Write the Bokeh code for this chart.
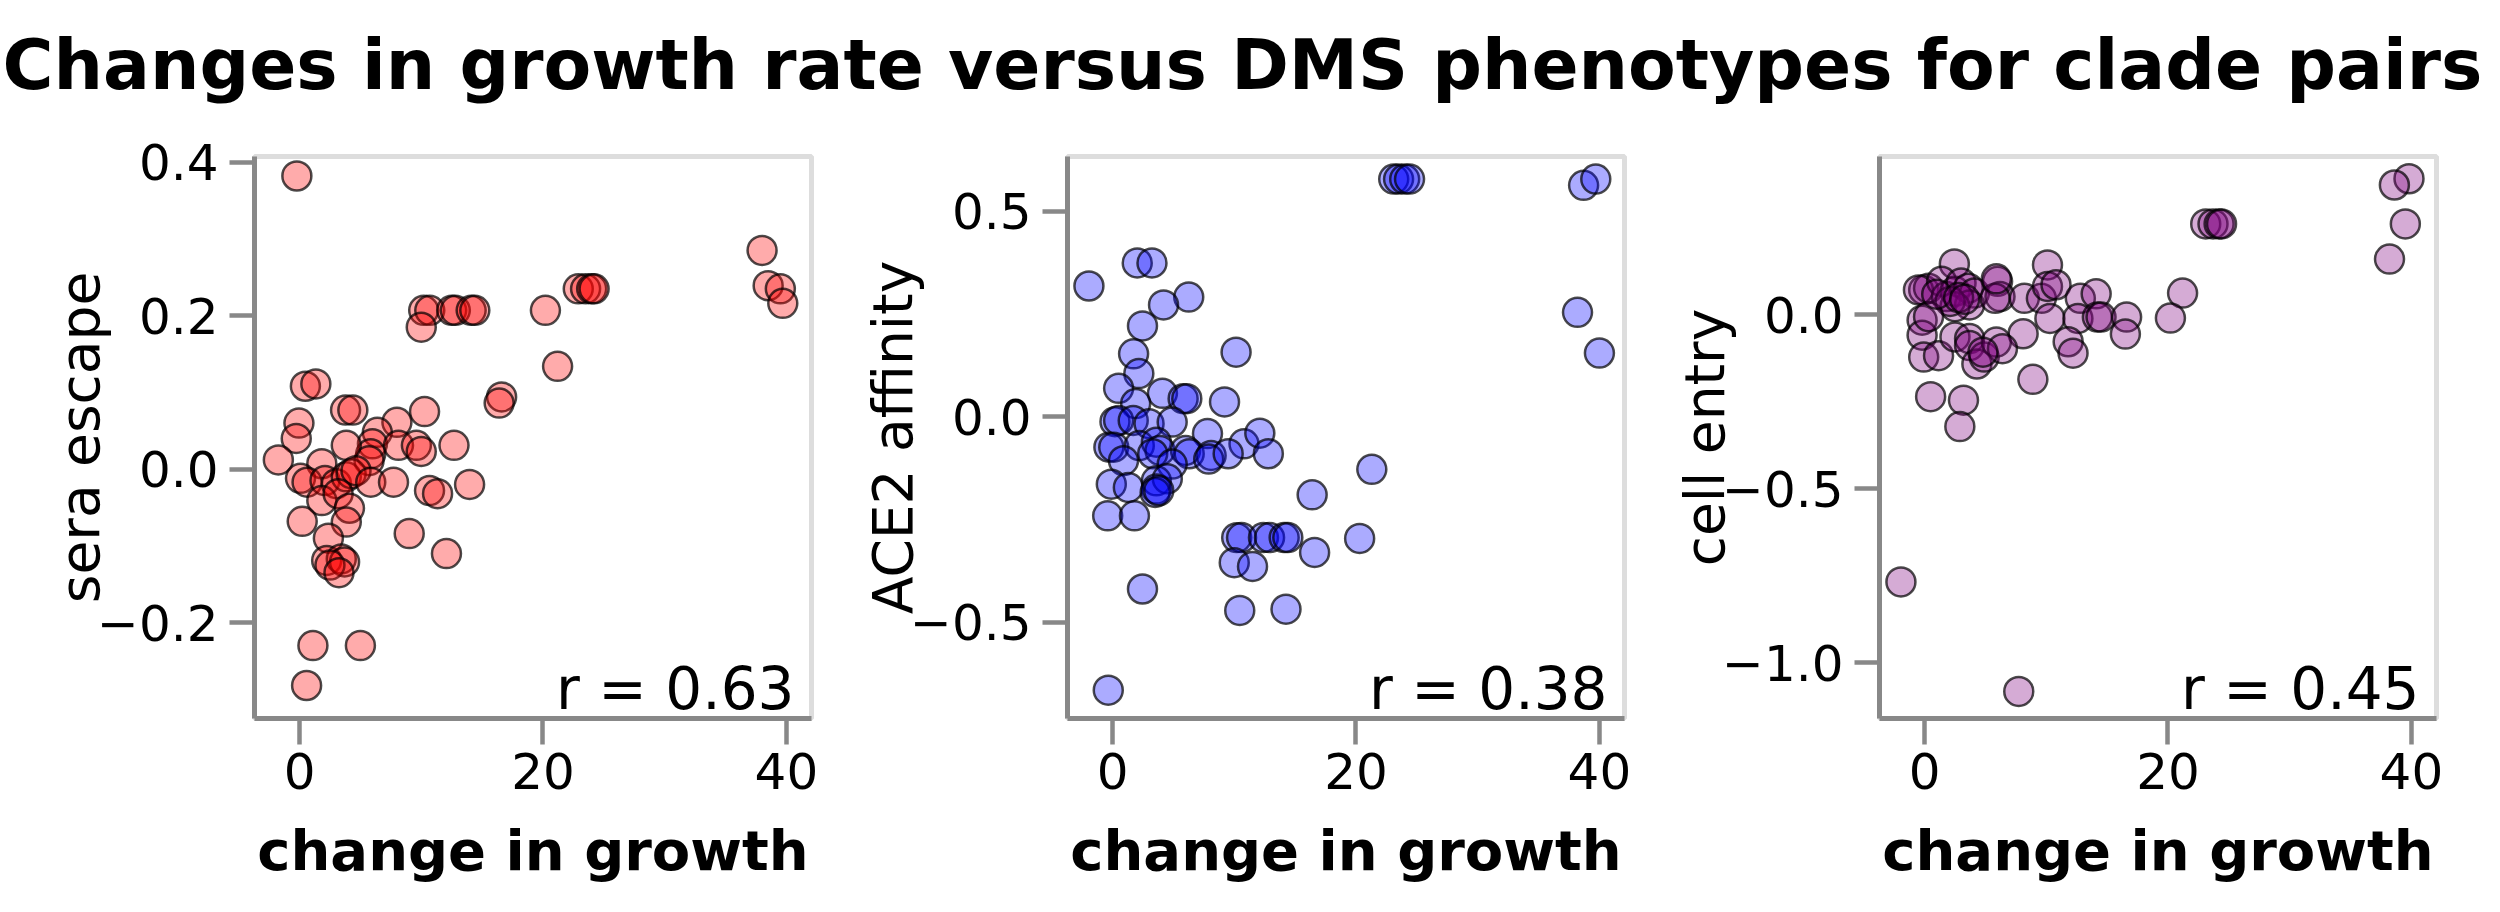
from bokeh.plotting import figure
from bokeh.layouts import column, row
from bokeh.models import Range1d, FixedTicker, CustomJSTickFormatter, Label
from bokeh.embed import file_html
from bokeh.resources import INLINE

FONT = "DejaVu Sans"

# ---------------- data ----------------
title_text = "Changes in growth rate versus DMS phenotypes for clade pairs"
x_title = "change in growth"
y_titles = ["sera escape", "ACE2 affinity", "cell entry"]
colors = ["#ff0000", "#0000ff", "#800080"]
r_values = [0.63, 0.38, 0.45]
x_ticks = [0, 20, 40]
y_ticks_escape = [-0.2, 0.0, 0.2, 0.4]
y_ticks_ace2 = [-0.5, 0.0, 0.5]
y_ticks_entry = [-1.0, -0.5, 0.0]

growth_escape = [-0.22, 38.0, 38.5, 39.5, 39.7, 22.9, 23.5, 24.0, 24.2, 20.2, 21.2, 10.2, 10.7, 10.0,
                 12.5, 12.8, 14.1, 14.4, 16.6, 16.4, 0.48, 1.34, 3.78, 4.38, -0.05, -0.27, -1.74, 10.27,
                 8.0, 6.39, 5.99, 5.85, 5.71, 3.84, 8.13, 9.6, 10.0, 12.69, 1.83, 0.08, 0.62, 2.09, 3.03,
                 3.84, 4.24, 4.64, 1.83, 3.17, 4.1, 3.84, 0.22, 2.37, 5.85, 7.72, 10.68, 11.34, 13.97,
                 9.01, 12.07, 2.23, 3.43, 3.7, 2.5, 3.24, 1.1, 5.0, 0.58]
sera_escape = [0.382, 0.285, 0.239, 0.235, 0.216, 0.235, 0.235, 0.235, 0.235, 0.207, 0.134, 0.207, 0.207,
               0.185, 0.207, 0.207, 0.207, 0.207, 0.094, 0.086, 0.108, 0.111, 0.077, 0.077, 0.060, 0.040,
               0.012, 0.075, 0.061, 0.048, 0.033, 0.020, 0.011, 0.031, 0.031, 0.031, 0.023, 0.031, 0.007,
               -0.012, -0.017, -0.015, -0.019, -0.010, -0.006, -0.002, -0.041, -0.032, -0.051, -0.069,
               -0.068, -0.090, -0.017, -0.017, -0.028, -0.032, -0.020, -0.084, -0.110, -0.119, -0.117,
               -0.121, -0.125, -0.135, -0.230, -0.230, -0.282]

growth_ace2 = [-1.94, 2.03, 3.24, 6.26, 4.19, 2.46, 1.73, 2.16, 10.15,
               23.1, 23.5, 24.0, 24.4, 38.7, 39.7, 38.2, 40.0,
               0.5, 4.1, 5.8, 6.1, 1.9, 9.2,
               0.2, 0.5, 1.7, 3.0, 4.9, 7.8, 10.8, 12.1, 12.8,
               -0.3, 0.1, 2.2, 3.6, 3.9, 3.3, 6.0, 6.3, 8.1, 7.9, 9.5, 0.9, 4.9,
               -0.1, 1.3, 3.6, 4.5, 3.6, 3.5, 3.8,
               -0.4, 1.8, 16.4, 21.3,
               10.2, 10.6, 12.4, 12.9, 14.1, 14.4, 20.3, 16.6,
               10.0, 11.5, 2.46, 10.45, 14.25, -0.35]
ace2_affinity = [0.318, 0.374, 0.374, 0.291, 0.272, 0.221, 0.153, 0.105, 0.157,
                 0.578, 0.578, 0.578, 0.578, 0.563, 0.578, 0.254, 0.155,
                 0.069, 0.057, 0.044, 0.044, 0.032, 0.036,
                 -0.012, -0.009, -0.009, -0.017, -0.013, -0.041, -0.066, -0.040, -0.090,
                 -0.074, -0.074, -0.070, -0.062, -0.082, -0.090, -0.082, -0.090, -0.094, -0.103, -0.090,
                 -0.107, -0.115,
                 -0.164, -0.172, -0.156, -0.151, -0.176, -0.184, -0.180,
                 -0.241, -0.241, -0.190, -0.128,
                 -0.294, -0.294, -0.294, -0.294, -0.294, -0.294, -0.296, -0.330,
                 -0.355, -0.364, -0.419, -0.471, -0.468, -0.665]

growth_entry = [39.8, 38.6, 39.5, 38.2, 23.1, 23.7, 24.2, 24.4, 21.2, 20.2, -1.94, 7.74,
                10.1, 2.45, -0.07, 0.33, -0.5, 1.4, 1.8, 2.5, 3.0, 3.6, 4.1, 3.7, 2.5, 2.1,
                6.0, 6.2, 5.8, 8.2, 9.6, 10.1, 10.8, 12.8, 14.1,
                10.3, 12.6, 14.2, 14.5, 16.6, 16.5, 11.8, 12.2, 8.9, 8.1,
                -0.2, -0.2, -0.07, 1.15, 0.33,
                2.5, 3.7, 3.7, 4.3, 4.9, 5.9, 6.4, 4.8,
                0.5, 3.2, 2.9, 5.9, 1.0, 2.8, 3.3]
cell_entry = [0.392, 0.374, 0.262, 0.161, 0.262, 0.262, 0.262, 0.262, 0.063, -0.009, -0.768, -1.083,
              0.144, 0.147, 0.072, 0.077, 0.072, 0.097, 0.053, 0.068, 0.092, 0.077, 0.063, 0.029, 0.024,
              0.039, 0.097, 0.053, 0.048, 0.048, 0.048, 0.082, 0.087, 0.048, 0.061,
              -0.010, -0.010, -0.006, -0.006, -0.006, -0.055, -0.077, -0.110, -0.185, -0.054,
              -0.015, -0.058, -0.121, -0.117, -0.005,
              -0.063, -0.068, -0.088, -0.141, -0.121, -0.078, -0.097, -0.107,
              -0.235, -0.245, -0.321, 0.104, 0.060, 0.050, 0.045]

# ---------------- layout constants ----------------
X_RANGE = (-3.7, 42.06)
Y_RANGES = [(-0.325, 0.4074), (-0.734, 0.633), (-1.161, 0.456)]
FRAME_W, FRAME_H = 557, 562
TOP, BOTTOM = 36, 178
LEFTS = [254, 226, 225]
RIGHTS = [30, 30, 30]

xs = [growth_escape, growth_ace2, growth_entry]
ys = [sera_escape, ace2_affinity, cell_entry]
yticks = [y_ticks_escape, y_ticks_ace2, y_ticks_entry]

y_fmt = CustomJSTickFormatter(code="return tick.toFixed(1).replace('-', '\u2212');")
x_fmt = CustomJSTickFormatter(code="return tick.toFixed(0);")

panels = []
for i in range(3):
    y0, y1 = Y_RANGES[i]
    p = figure(width=LEFTS[i] + FRAME_W + RIGHTS[i], height=TOP + FRAME_H + BOTTOM,
               x_range=Range1d(*X_RANGE), y_range=Range1d(y0, y1),
               min_border_left=LEFTS[i], min_border_right=RIGHTS[i],
               min_border_top=TOP, min_border_bottom=BOTTOM,
               toolbar_location=None, output_backend="svg")
    p.grid.visible = False
    p.background_fill_color = "white"
    p.border_fill_color = "white"
    p.outline_line_color = "#dddddd"
    p.outline_line_width = 5

    p.scatter(xs[i], ys[i], marker="circle", size=29,
              fill_color=colors[i], fill_alpha=0.33,
              line_color="black", line_alpha=0.7, line_width=2.5)

    for ax in (p.xaxis[0], p.yaxis[0]):
        ax.axis_line_color = "#888888"
        ax.axis_line_width = 5
        ax.major_tick_line_color = "#888888"
        ax.major_tick_line_width = 4.5
        ax.major_tick_in = 0
        ax.minor_tick_line_color = None
        ax.major_label_text_font = FONT
        ax.major_label_text_font_size = "50px"
        ax.major_label_text_color = "black"
        ax.axis_label_text_font = FONT
        ax.axis_label_text_color = "black"

    p.xaxis.ticker = FixedTicker(ticks=x_ticks)
    p.xaxis.formatter = x_fmt
    p.xaxis.major_tick_out = 26
    p.xaxis.major_label_standoff = 8
    p.xaxis.axis_label = x_title
    p.xaxis.axis_label_text_font_size = "56px"
    p.xaxis.axis_label_text_font_style = "bold"
    p.xaxis.axis_label_standoff = 26

    p.yaxis.ticker = FixedTicker(ticks=yticks[i])
    p.yaxis.formatter = y_fmt
    p.yaxis.major_tick_out = 25
    p.yaxis.major_label_standoff = 11
    p.yaxis.axis_label = y_titles[i]
    p.yaxis.axis_label_text_font_size = "55px"
    p.yaxis.axis_label_text_font_style = "normal"
    p.yaxis.axis_label_standoff = -18

    pxu_x = FRAME_W / (X_RANGE[1] - X_RANGE[0])
    pxu_y = FRAME_H / (y1 - y0)
    p.add_layout(Label(x=X_RANGE[1] - 17 / pxu_x, y=y0 + 30 / pxu_y,
                       text=f"r = {r_values[i]:.2f}", text_align="right",
                       text_baseline="alphabetic", text_font=FONT,
                       text_font_size="58px", text_color="black"))
    panels.append(p)

TW, TH = 2484, 120
tf = figure(width=TW, height=TH, x_range=Range1d(0, TW), y_range=Range1d(0, TH),
            x_axis_type=None, y_axis_type=None, min_border=0,
            toolbar_location=None, output_backend="svg")
tf.grid.visible = False
tf.outline_line_color = None
tf.add_layout(Label(x=TW / 2, y=56, text=title_text, text_align="center",
                    text_baseline="alphabetic", text_font=FONT,
                    text_font_size="69.5px", text_font_style="bold", text_color="black"))

layout = column(tf, row(*panels, spacing=0), spacing=0)
open("out.html", "w").write(file_html(layout, INLINE))
